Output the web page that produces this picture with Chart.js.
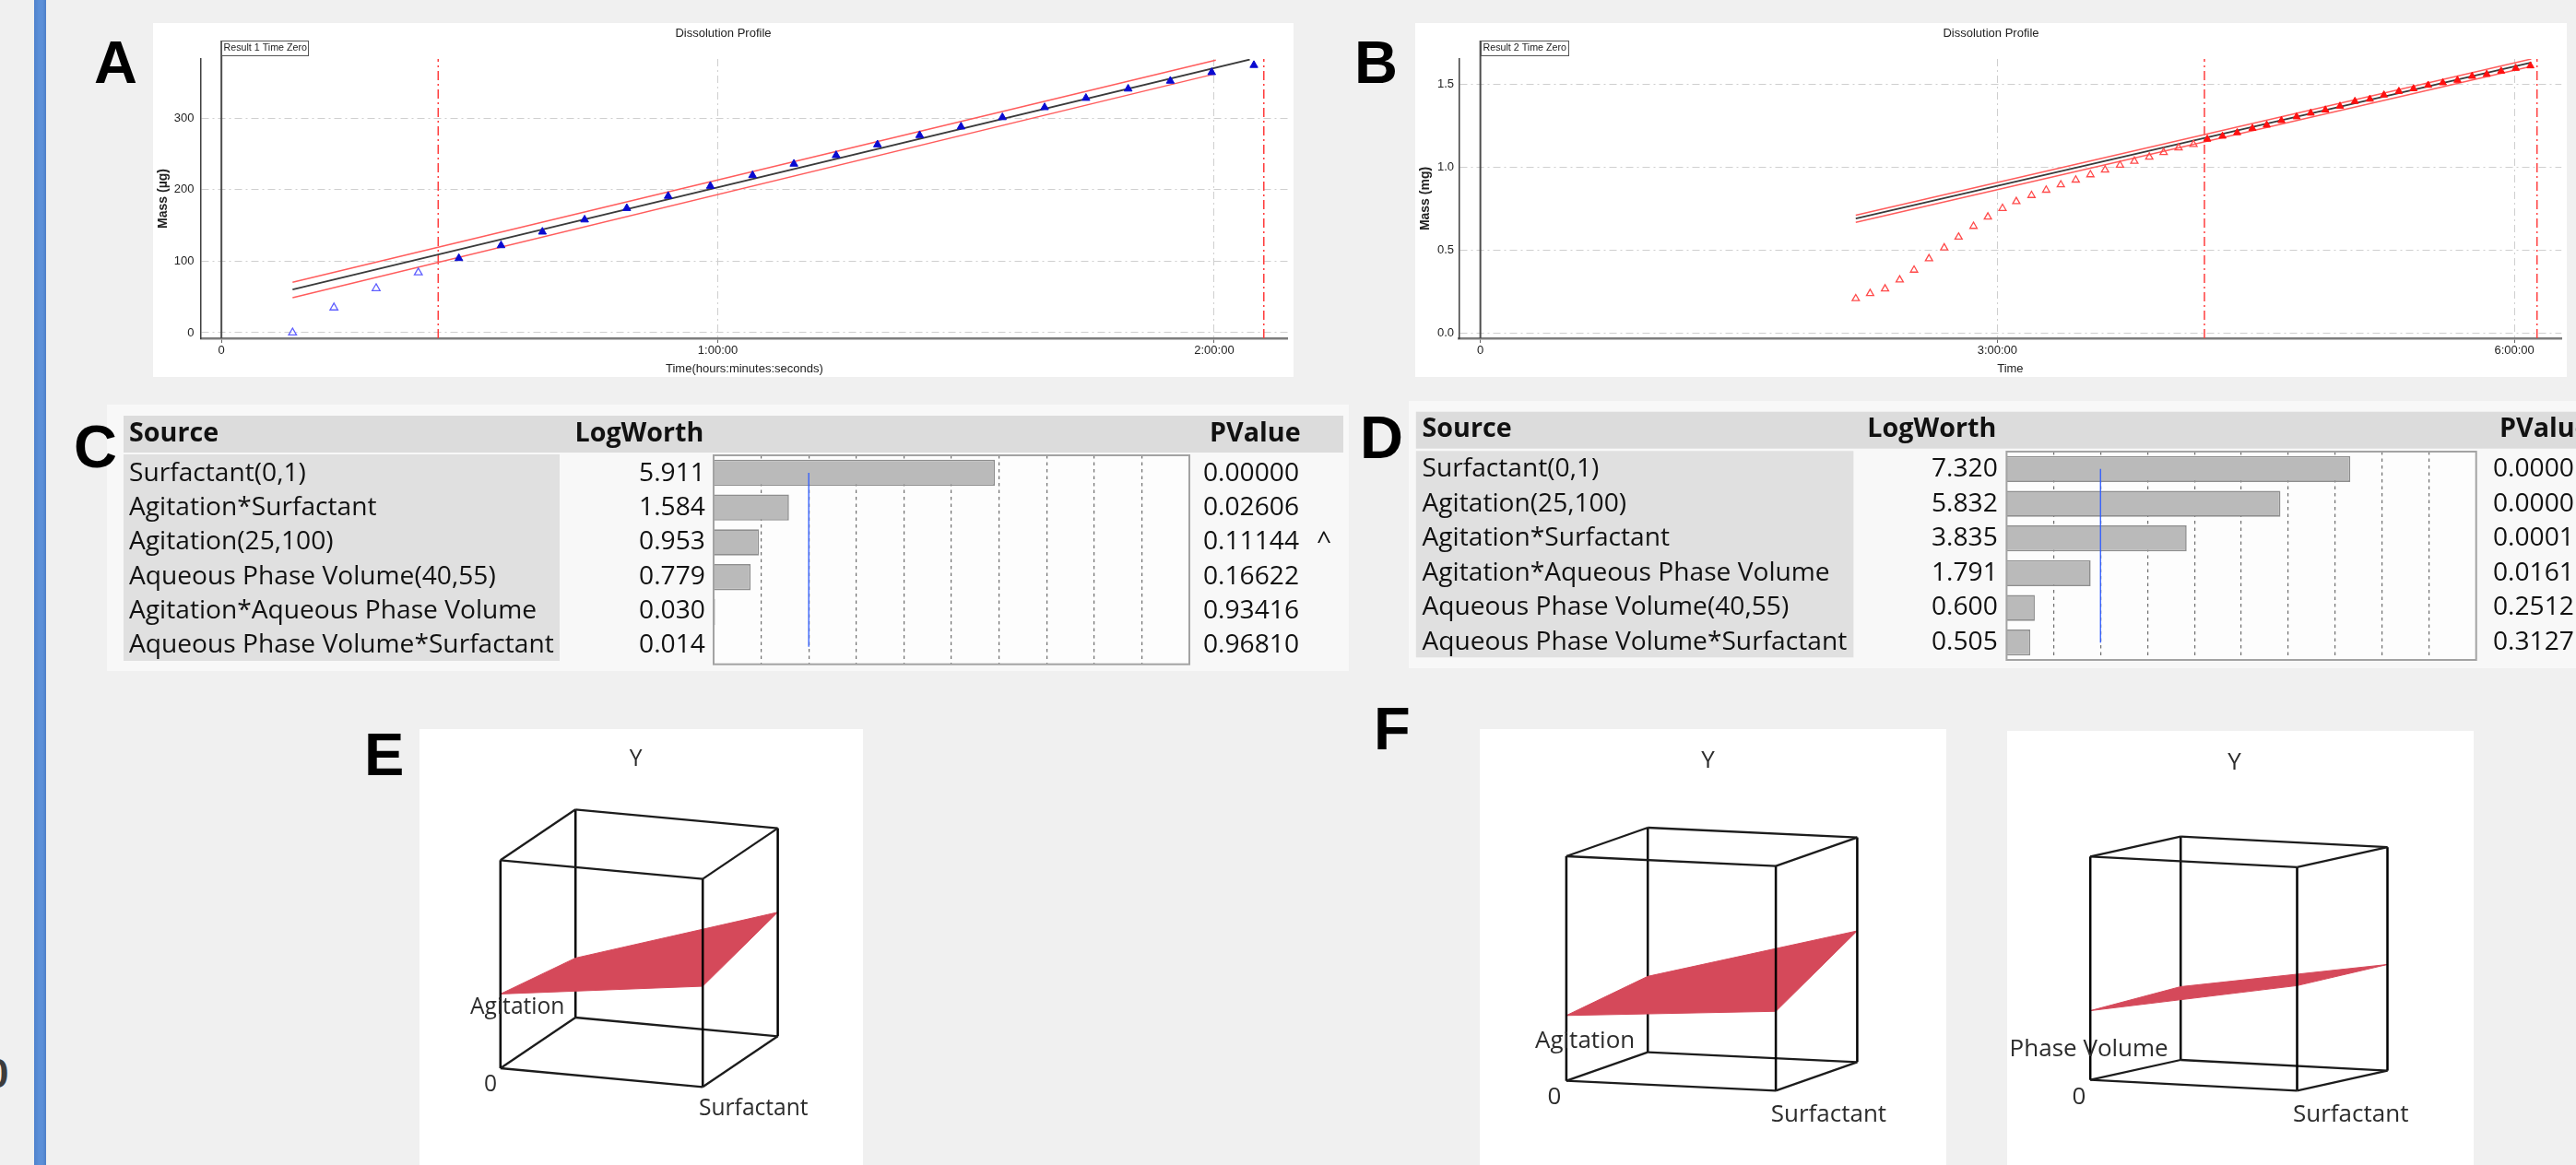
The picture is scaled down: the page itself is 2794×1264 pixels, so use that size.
<!DOCTYPE html>
<html>
<head>
<meta charset="utf-8">
<title>Dissolution profiles, effect summaries and response surfaces</title>
<script src="https://cdn.jsdelivr.net/npm/chart.js@4.4.1/dist/chart.umd.min.js"></script>
<style>
  html, body { margin: 0; padding: 0; }
  body { width: 2794px; height: 1264px; background: #f0f0f0; position: relative; overflow: hidden; }
  .box { position: absolute; }
  .box canvas { display: block; }
  .letter { position: absolute; font-family: "Liberation Sans", Arial, sans-serif; font-weight: bold;
            font-size: 65px; line-height: 65px; color: #000; }
</style>
</head>
<body>
<div class="box" style="left:37px;top:0;width:13px;height:1264px;background:linear-gradient(90deg,#4f82cc,#5b8fd8 40%,#5b8fd8 70%,#4d7fc8);"></div>

<div class="box" style="left:166px;top:25px;width:1237px;height:384px;background:#fff;"><canvas id="chartA" width="1237" height="384"></canvas></div>
<div class="box" style="left:1535px;top:25px;width:1249px;height:384px;background:#fff;"><canvas id="chartB" width="1249" height="384"></canvas></div>
<div class="box" style="left:116px;top:439px;width:1347px;height:289px;background:#f8f8f8;"><canvas id="chartC" width="1347" height="289"></canvas></div>
<div class="box" style="left:1528px;top:435px;width:1266px;height:290px;background:#f8f8f8;"><canvas id="chartD" width="1266" height="290"></canvas></div>
<div class="box" style="left:455px;top:791px;width:481px;height:473px;background:#fff;"><canvas id="chartE" width="481" height="473"></canvas></div>
<div class="box" style="left:1605px;top:791px;width:506px;height:473px;background:#fff;"><canvas id="chartF1" width="506" height="473"></canvas></div>
<div class="box" style="left:2177px;top:793px;width:506px;height:471px;background:#fff;"><canvas id="chartF2" width="506" height="471"></canvas></div>

<div class="letter" style="left:-15px;top:1143px;font-size:44px;line-height:44px;color:#3c3c3c;">0</div>
<div class="letter" style="left:102px;top:35px;">A</div>
<div class="letter" style="left:1469px;top:35px;">B</div>
<div class="letter" style="left:80px;top:452px;">C</div>
<div class="letter" style="left:1475px;top:442px;">D</div>
<div class="letter" style="left:395px;top:786px;">E</div>
<div class="letter" style="left:1490px;top:758px;">F</div>

<script>
// ---------------- Panel A: dissolution profile, result 1 (minutes, µg) ----------------
const timeTicksA = [0, 60, 120];
const timeTickLabelsA = ['0', '1:00:00', '2:00:00'];
const massTicksA = [0, 100, 200, 300];
const massTickLabelsA = ['0', '100', '200', '300'];
const timeExcludedA = [8.6, 13.6, 18.7, 23.8];
const massExcludedA = [0, 35, 62, 84];
const timeUsedA = [28.7, 33.8, 38.8, 43.9, 49.0, 54.0, 59.1, 64.2, 69.2, 74.3,
                   79.3, 84.4, 89.4, 94.4, 99.5, 104.5, 109.6, 114.7, 119.7, 124.8];
const massUsedA = [104, 122, 141, 158, 174, 191, 205, 220, 236, 248,
                   263, 276, 288, 301, 315, 328, 341, 352, 364, 374];
const fitTimeA = [8.6, 124.3];
const fitMassA = [60.3, 382];
const upperTimeA = [8.6, 120.2];
const upperMassA = [70.6, 381];
const lowerTimeA = [8.6, 120.0];
const lowerMassA = [49.0, 361.6];
const windowLinesA = [26.2, 126.0];

// ---------------- Panel B: dissolution profile, result 2 (minutes, mg) ----------------
const timeTicksB = [0, 180, 360];
const timeTickLabelsB = ['0', '3:00:00', '6:00:00'];
const massTicksB = [0, 0.5, 1.0, 1.5];
const massTickLabelsB = ['0.0', '0.5', '1.0', '1.5'];
const timeExcludedB = [130.7, 135.7, 140.9, 146.0, 151.0, 156.2, 161.5, 166.5, 171.7, 176.7, 181.8, 186.6,
                       191.9, 197.0, 202.1, 207.3, 212.4, 217.5, 222.7, 227.7, 232.9, 237.9, 243.1, 248.3];
const massExcludedB = [0.209, 0.240, 0.268, 0.322, 0.381, 0.450, 0.515, 0.580, 0.645, 0.701, 0.753, 0.794,
                       0.831, 0.863, 0.895, 0.924, 0.956, 0.984, 1.013, 1.037, 1.062, 1.090, 1.118, 1.138];
const timeUsedB = [253.1, 258.4, 263.5, 268.8, 273.8, 278.9, 284.2, 289.1, 294.2, 299.3, 304.5, 309.7,
                   314.6, 319.8, 324.9, 330.0, 335.1, 340.2, 345.3, 350.4, 355.4, 360.5, 365.6];
const massUsedB = [1.170, 1.188, 1.209, 1.235, 1.255, 1.282, 1.305, 1.327, 1.346, 1.369, 1.398, 1.411,
                   1.436, 1.458, 1.474, 1.495, 1.510, 1.525, 1.549, 1.561, 1.580, 1.597, 1.612];
const fitTimeB = [130.7, 365.9];
const fitMassB = [0.692, 1.631];
const upperTimeB = [130.7, 365.9];
const upperMassB = [0.711, 1.653];
const lowerTimeB = [130.7, 365.9];
const lowerMassB = [0.669, 1.608];
const windowLinesB = [252.1, 367.9];

// ---------------- Panels C / D: effect summaries ----------------
const sourcesC = ['Surfactant(0,1)', 'Agitation*Surfactant', 'Agitation(25,100)',
                  'Aqueous Phase Volume(40,55)', 'Agitation*Aqueous Phase Volume', 'Aqueous Phase Volume*Surfactant'];
const logWorthC = [5.911, 1.584, 0.953, 0.779, 0.030, 0.014];
const pValueC = ['0.00000', '0.02606', '0.11144', '0.16622', '0.93416', '0.96810'];
const flagC = ['', '', '^', '', '', ''];

const sourcesD = ['Surfactant(0,1)', 'Agitation(25,100)', 'Agitation*Surfactant',
                  'Agitation*Aqueous Phase Volume', 'Aqueous Phase Volume(40,55)', 'Aqueous Phase Volume*Surfactant'];
const logWorthD = [7.320, 5.832, 3.835, 1.791, 0.600, 0.505];
const pValueD = ['0.0000', '0.0000', '0.0001', '0.0161', '0.2512', '0.3127'];

const logWorthAxisMax = 10;
const logWorthThreshold = 2;   // LogWorth of p = 0.01

// ---------------- Panels E / F: prediction planes (relative height of Y at the four corners) ----------------
// order: (low, low), (high first, low second), (low first, high second), (high, high)
const planeE = [0.357, 0.484, 0.286, 0.596];
const planeF1 = [0.291, 0.353, 0.338, 0.584];
const planeF2 = [0.310, 0.470, 0.328, 0.475];

// =====================================================================
const SANS = '"Liberation Sans", Arial, sans-serif';
const UI = '"Open Sans", "Noto Sans", sans-serif';
Chart.defaults.font.family = SANS;
Chart.defaults.color = '#222';
Chart.defaults.animation = false;
Chart.defaults.events = [];

const zip = (xs, ys) => xs.map((x, i) => ({x, y: ys[i]}));

function timeZeroPlugin(label, boxTop, boxW) {
  return {
    id: 'timeZero',
    beforeDatasetsDraw(chart) {
      const ctx = chart.ctx;
      const x = chart.scales.x.getPixelForValue(0);
      ctx.save();
      ctx.strokeStyle = '#4d4d4d';
      ctx.lineWidth = 2;
      ctx.beginPath();
      ctx.moveTo(x, boxTop);
      ctx.lineTo(x, chart.chartArea.bottom);
      ctx.stroke();
      ctx.restore();
    },
    afterDraw(chart) {
      const ctx = chart.ctx;
      const x = Math.round(chart.scales.x.getPixelForValue(0));
      ctx.save();
      ctx.fillStyle = '#fff';
      ctx.fillRect(x, boxTop, boxW, 16);
      ctx.strokeStyle = '#555';
      ctx.lineWidth = 1;
      ctx.strokeRect(x + 0.5, boxTop + 0.5, boxW, 16);
      ctx.fillStyle = '#222';
      ctx.font = '10.7px ' + SANS;
      ctx.textBaseline = 'middle';
      ctx.fillText(label, x + 2.5, boxTop + 8.5);
      ctx.restore();
    }
  };
}

function makeProfile(id, p) {
  const line = (xs, ys, color, w) => ({
    data: zip(xs, ys), showLine: true, borderColor: color, borderWidth: w,
    pointRadius: 0, pointHitRadius: 0, fill: false
  });
  const datasets = [
    {data: zip(p.usedT, p.usedM), pointStyle: 'triangle', pointRadius: p.r,
     borderColor: p.fillColor, backgroundColor: p.fillColor, borderWidth: 1},
    {data: zip(p.exclT, p.exclM), pointStyle: 'triangle', pointRadius: p.r,
     borderColor: p.openColor, backgroundColor: 'rgba(255,255,255,0)', borderWidth: 1.3},
    line(p.fitT, p.fitM, '#3a3a3a', 1.8),
    line(p.upT, p.upM, '#ff5c5c', 1.5),
    line(p.loT, p.loM, '#ff5c5c', 1.5),
    ...p.windows.map(t => ({
      data: [{x: t, y: p.yMin}, {x: t, y: p.yMax}], showLine: true,
      borderColor: '#ff3d3d', borderWidth: 1.5, borderDash: [10, 4, 2, 4],
      pointRadius: 0, pointHitRadius: 0
    }))
  ];
  return new Chart(document.getElementById(id), {
    type: 'scatter',
    data: {datasets},
    plugins: [timeZeroPlugin(p.zeroLabel, 19, p.zeroBoxW)],
    options: {
      responsive: false,
      devicePixelRatio: 1,
      layout: {padding: 0},
      plugins: {
        legend: {display: false},
        tooltip: {enabled: false},
        title: {display: true, text: 'Dissolution Profile', color: '#222',
                font: {size: 13, weight: 'normal', family: SANS}, padding: {top: 3.2, bottom: 20.2}}
      },
      scales: {
        x: {
          type: 'linear', min: p.xMin, max: p.xMax,
          afterBuildTicks: s => { s.ticks = p.xTicks.map(v => ({value: v})); },
          afterFit: s => { s.height = 42; },
          ticks: {callback: v => p.xTickLabels[p.xTicks.indexOf(v)], font: {size: 13}, color: '#222',
                  padding: 1, maxRotation: 0, autoSkip: false},
          grid: {color: '#cfcfcf', lineWidth: 1, drawTicks: true, tickLength: 5, tickColor: '#666', tickWidth: 1},
          border: {display: true, color: '#7d7d7d', width: 2.5, dash: [8, 4, 2, 4]},
          title: {display: true, text: p.xTitle, font: {size: 13, weight: 'normal'}, color: '#222',
                  padding: {top: 0, bottom: 1.2}}
        },
        y: {
          type: 'linear', min: p.yMin, max: p.yMax,
          afterBuildTicks: s => { s.ticks = p.yTicks.map(v => ({value: v})); },
          afterFit: s => { s.width = p.yAxisW; },
          ticks: {callback: v => p.yTickLabels[p.yTicks.indexOf(v)], font: {size: 13}, color: '#222',
                  padding: p.yPad, autoSkip: false},
          grid: {color: '#cfcfcf', lineWidth: 1, drawTicks: false},
          border: {display: true, color: '#3f3f3f', width: 1.5, dash: [8, 4, 2, 4]},
          title: {display: true, text: p.yTitle, font: {size: 14, weight: 'bold'}, color: '#222',
                  padding: {top: 2.6, bottom: 0}}
        }
      }
    }
  });
}

makeProfile('chartA', {
  xMin: -2.47, xMax: 128.9, yMin: -7.8, yMax: 382.7,
  xTicks: timeTicksA, xTickLabels: timeTickLabelsA, yTicks: massTicksA, yTickLabels: massTickLabelsA,
  exclT: timeExcludedA, exclM: massExcludedA, usedT: timeUsedA, usedM: massUsedA,
  fitT: fitTimeA, fitM: fitMassA, upT: upperTimeA, upM: upperMassA, loT: lowerTimeA, loM: lowerMassA,
  windows: windowLinesA, openColor: '#5f5fff', fillColor: '#0a0ad0', r: 4.9,
  xTitle: 'Time(hours:minutes:seconds)', yTitle: 'Mass (µg)', yAxisW: 52, yPad: 7.5,
  zeroLabel: 'Result 1 Time Zero', zeroBoxW: 94
});

makeProfile('chartB', {
  xMin: -7.4, xMax: 376.4, yMin: -0.03, yMax: 1.653,
  xTicks: timeTicksB, xTickLabels: timeTickLabelsB, yTicks: massTicksB, yTickLabels: massTickLabelsB,
  exclT: timeExcludedB, exclM: massExcludedB, usedT: timeUsedB, usedM: massUsedB,
  fitT: fitTimeB, fitM: fitMassB, upT: upperTimeB, upM: upperMassB, loT: lowerTimeB, loM: lowerMassB,
  windows: windowLinesB, openColor: '#ff4a4a', fillColor: '#ff1010', r: 4.5,
  xTitle: 'Time', yTitle: 'Mass (mg)', yAxisW: 47.6, yPad: 5.5,
  zeroLabel: 'Result 2 Time Zero', zeroBoxW: 95
});

// ---------------- effect summary tables ----------------
function fitFont(ctx, text, weight, target) {
  ctx.font = weight + ' 100px ' + UI;
  return 100 * target / ctx.measureText(text).width;
}

function tablePlugin(t, sources, logWorth, pValues, flags) {
  return {
    id: 'effectTable',
    beforeDraw(chart) {
      const ctx = chart.ctx, a = chart.chartArea;
      ctx.save();
      ctx.fillStyle = '#dcdcdc';
      ctx.fillRect(t.head.x, t.head.y, t.head.w, t.head.h);
      ctx.fillStyle = '#e0e0e0';
      ctx.fillRect(t.src.x, t.src.y, t.src.w, t.src.h);
      ctx.fillStyle = '#fdfdfd';
      ctx.fillRect(a.left, a.top, a.right - a.left, a.bottom - a.top);
      ctx.restore();
    },
    afterDatasetsDraw(chart) {
      const ctx = chart.ctx, a = chart.chartArea;
      const xs = chart.scales.x, ys = chart.scales.y;
      ctx.save();
      const xb = xs.getPixelForValue(logWorthThreshold);
      ctx.strokeStyle = '#2d5bff';
      ctx.lineWidth = 1.3;
      ctx.beginPath();
      ctx.moveTo(xb, ys.getPixelForValue(0));
      ctx.lineTo(xb, ys.getPixelForValue(sources.length - 1));
      ctx.stroke();
      ctx.strokeStyle = '#a3a3a3';
      ctx.lineWidth = 2;
      ctx.strokeRect(a.left, a.top, a.right - a.left, a.bottom - a.top);
      ctx.restore();
    },
    afterDraw(chart) {
      const ctx = chart.ctx;
      ctx.save();
      const rowSize = fitFont(ctx, 'Aqueous Phase Volume*Surfactant', 'normal', 461);
      const headSize = fitFont(ctx, 'LogWorth', 'bold', 140);
      ctx.fillStyle = '#111';
      ctx.textBaseline = 'alphabetic';
      ctx.font = 'bold ' + headSize + 'px ' + UI;
      ctx.textAlign = 'left';
      ctx.fillText('Source', t.srcX, t.headBase);
      ctx.textAlign = 'right';
      ctx.fillText('LogWorth', t.lwX, t.headBase);
      ctx.textAlign = t.pvHeadAlign;
      ctx.fillText('PValue', t.pvHeadX, t.headBase);
      ctx.font = rowSize + 'px ' + UI;
      sources.forEach((s, i) => {
        const y = t.rowBase + i * t.rowStep;
        ctx.textAlign = 'left';
        ctx.fillText(s, t.srcX, y);
        ctx.textAlign = 'right';
        ctx.fillText(logWorth[i].toFixed(3), t.lwX + 1.5, y);
        ctx.textAlign = t.pvAlign;
        ctx.fillText(pValues[i], t.pvX, y);
        if (flags && flags[i]) {
          ctx.textAlign = 'left';
          ctx.fillText(flags[i], t.flagX, y);
        }
      });
      ctx.restore();
    }
  };
}

function makeTable(id, t, sources, logWorth, pValues, flags) {
  return new Chart(document.getElementById(id), {
    type: 'bar',
    data: {
      labels: sources,
      datasets: [{data: logWorth, backgroundColor: '#bababa', borderColor: '#8e8e8e', borderWidth: 1.6,
                  barPercentage: 0.75, categoryPercentage: 1}]
    },
    plugins: [tablePlugin(t, sources, logWorth, pValues, flags)],
    options: {
      indexAxis: 'y',
      responsive: false,
      devicePixelRatio: 1,
      layout: {padding: t.pad},
      plugins: {legend: {display: false}, tooltip: {enabled: false}, title: {display: false}},
      scales: {
        x: {
          type: 'linear', min: 0, max: logWorthAxisMax, display: true,
          ticks: {display: false, stepSize: 1},
          afterFit: s => { s.height = 0; },
          grid: {drawTicks: false, lineWidth: 1.2,
                 color: c => (c.tick && (c.tick.value <= 0 || c.tick.value >= logWorthAxisMax)) ? 'rgba(0,0,0,0)' : '#6e6e6e'},
          border: {display: false, dash: [3.5, 4]}
        },
        y: {display: false}
      }
    }
  });
}

makeTable('chartC', {
  pad: {left: 658, top: 55, right: 173, bottom: 7.3},
  head: {x: 18, y: 12, w: 1323, h: 40}, src: {x: 18, y: 54, w: 473, h: 224},
  srcX: 24, lwX: 647.4, headBase: 40.3, rowBase: 82.7, rowStep: 37.3,
  pvX: 1293, pvAlign: 'right', pvHeadX: 1294.6, pvHeadAlign: 'right', flagX: 1312
}, sourcesC, logWorthC, pValueC, flagC);

makeTable('chartD', {
  pad: {left: 648.4, top: 55, right: 108.3, bottom: 9},
  head: {x: 7.8, y: 11.7, w: 1260, h: 40}, src: {x: 7.8, y: 54.3, w: 474.6, h: 224},
  srcX: 14.5, lwX: 637.3, headBase: 39, rowBase: 82.3, rowStep: 37.5,
  pvX: 1176, pvAlign: 'left', pvHeadX: 1183, pvHeadAlign: 'left', flagX: 0
}, sourcesD, logWorthD, pValueD, null);

// ---------------- prediction plane inside a unit cube ----------------
// cube edges as [from corner, to corner, hidden behind plane]; corners are (first factor, second factor, Y)
const cubeEdges = [
  [[0, 0, 0], [1, 0, 0], false], [[0, 0, 1], [1, 0, 1], false],
  [[0, 1, 0], [1, 1, 0], true],  [[0, 1, 1], [1, 1, 1], false],
  [[0, 0, 0], [0, 1, 0], true],  [[0, 0, 1], [0, 1, 1], false],
  [[1, 0, 0], [1, 1, 0], false], [[1, 0, 1], [1, 1, 1], false],
  [[0, 0, 0], [0, 0, 1], false], [[1, 0, 0], [1, 0, 1], false],
  [[0, 1, 0], [0, 1, 1], true],  [[1, 1, 0], [1, 1, 1], false]
];

function labelPlugin(size, items) {
  return {
    id: 'cubeLabels',
    afterDraw(chart) {
      const ctx = chart.ctx;
      ctx.save();
      ctx.fillStyle = '#2c2c2c';
      ctx.font = size + 'px ' + UI;
      ctx.textBaseline = 'alphabetic';
      items.forEach(l => { ctx.textAlign = l.align || 'left'; ctx.fillText(l.text, l.x, l.y); });
      ctx.restore();
    }
  };
}

function makeSurface(id, view, heights, labelSize, labels) {
  const canvas = document.getElementById(id);
  const P = ([s, a, h]) => ({
    x: view.o[0] + s * view.u[0] + a * view.v[0] + h * view.w[0],
    y: view.o[1] + s * view.u[1] + a * view.v[1] + h * view.w[1]
  });
  const edgeSets = cubeEdges.map(([p, q, hidden]) => ({
    data: [P(p), P(q)], showLine: true, pointRadius: 0, pointHitRadius: 0,
    borderColor: p[2] === q[2] ? '#1c1c1c' : '#000', borderWidth: p[2] === q[2] ? 2.3 : 2.5,
    order: hidden ? 3 : 1
  }));
  const [hLL, hHL, hLH, hHH] = heights;
  const plane = {
    data: [P([0, 0, hLL]), P([1, 0, hHL]), P([1, 1, hHH]), P([0, 1, hLH]), P([0, 0, hLL])],
    showLine: true, fill: 'shape', backgroundColor: '#d5495a', borderColor: '#d5495a',
    borderWidth: 1, pointRadius: 0, pointHitRadius: 0, order: 2
  };
  return new Chart(canvas, {
    type: 'scatter',
    data: {datasets: [...edgeSets, plane]},
    plugins: [labelPlugin(labelSize, labels)],
    options: {
      responsive: false,
      devicePixelRatio: 1,
      layout: {padding: 0},
      plugins: {legend: {display: false}, tooltip: {enabled: false}, title: {display: false}},
      scales: {
        x: {type: 'linear', min: 0, max: canvas.width, display: false},
        y: {type: 'linear', min: 0, max: canvas.height, reverse: true, display: false}
      }
    }
  });
}

makeSurface('chartE',
  {o: [87.8, 368], u: [219.4, 20.3], v: [81.4, -55], w: [0, -225.7]}, planeE, 24.6,
  [{text: 'Y', x: 234.5, y: 40, align: 'center'}, {text: 'Agitation', x: 55, y: 309},
   {text: '0', x: 70, y: 393}, {text: 'Surfactant', x: 303, y: 419}]);

makeSurface('chartF1',
  {o: [93.9, 381.7], u: [227.2, 10.6], v: [88.3, -31], w: [0, -243.7]}, planeF1, 26,
  [{text: 'Y', x: 247.5, y: 42, align: 'center'}, {text: 'Agitation', x: 60, y: 346},
   {text: '0', x: 73.6, y: 407}, {text: 'Surfactant', x: 315.7, y: 426}]);

makeSurface('chartF2',
  {o: [90.2, 378.7], u: [224.3, 11.6], v: [98, -21.7], w: [0, -242.4]}, planeF2, 26,
  [{text: 'Y', x: 246.5, y: 42, align: 'center'}, {text: 'Phase Volume', x: 2.6, y: 353},
   {text: '0', x: 70.6, y: 405}, {text: 'Surfactant', x: 310, y: 423.7}]);
</script>
</body>
</html>
